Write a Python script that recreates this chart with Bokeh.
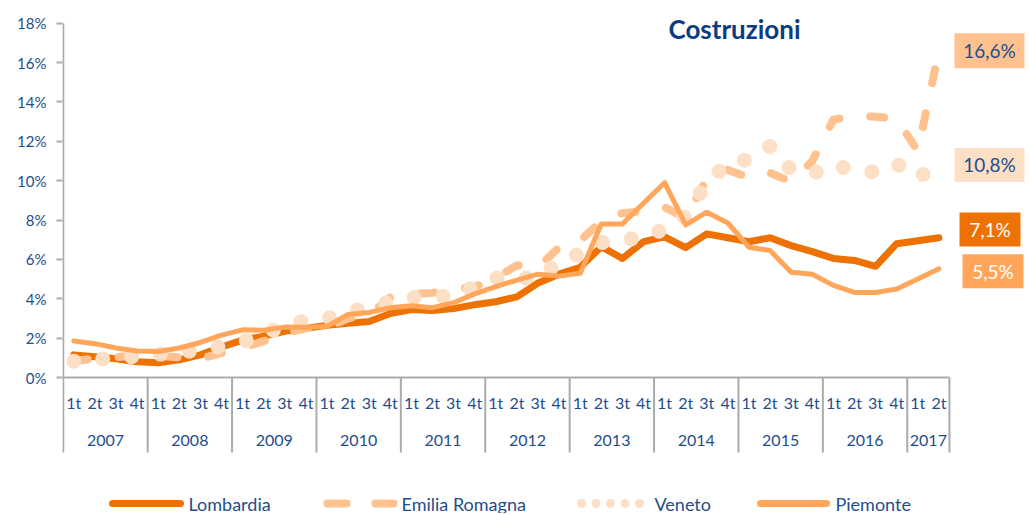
from bokeh.plotting import figure
from bokeh.models import Range1d, FixedTicker, PrintfTickFormatter, ColumnDataSource
from bokeh.core.properties import value
from bokeh.embed import file_html
from bokeh.resources import INLINE

# ---------------- data ----------------
years = ["2007", "2008", "2009", "2010", "2011", "2012", "2013", "2014", "2015", "2016", "2017"]
quarters_in_year = [4, 4, 4, 4, 4, 4, 4, 4, 4, 4, 2]
quarter_names = ["1t", "2t", "3t", "4t"]

lombardia = [1.15, 1.05, 0.95, 0.80, 0.75, 0.90, 1.15, 1.55, 1.90, 2.10,
             2.35, 2.50, 2.65, 2.75, 2.85, 3.25, 3.45, 3.40, 3.50, 3.70,
             3.85, 4.10, 4.80, 5.25, 5.60, 6.65, 6.05, 6.90, 7.15, 6.60,
             7.30, 7.10, 6.90, 7.10, 6.70, 6.40, 6.05, 5.95, 5.65, 6.80,
             6.95, 7.10]
emilia_romagna = [0.85, 0.95, 1.03, 1.12, 1.10, 1.02, 0.95, 1.25, 1.50, 1.85,
                  2.25, 2.50, 2.56, 3.00, 3.20, 4.07, 4.25, 4.30, 4.50, 4.60,
                  5.05, 5.70, 5.60, 6.62, 6.95, 7.95, 8.35, 8.45, 8.65, 8.10,
                  10.10, 10.55, 10.15, 10.40, 9.95, 11.00, 13.10, 13.30, 13.25, 13.15,
                  11.50, 16.60]
veneto = [0.83, 0.90, 1.00, 1.08, 1.18, 1.27, 1.40, 1.58, 1.82, 2.20,
          2.65, 2.90, 3.00, 3.30, 3.60, 3.83, 4.05, 4.15, 4.10, 4.62,
          5.05, 5.10, 5.00, 5.90, 6.30, 6.85, 7.00, 7.10, 7.56, 8.20,
          9.90, 10.90, 11.08, 11.75, 10.55, 10.35, 10.82, 10.50, 10.45, 10.86,
          10.15, 10.80]
piemonte = [1.85, 1.72, 1.50, 1.35, 1.32, 1.50, 1.78, 2.15, 2.42, 2.40,
            2.56, 2.55, 2.60, 3.20, 3.30, 3.55, 3.65, 3.55, 3.80, 4.25,
            4.62, 4.95, 5.25, 5.15, 5.30, 7.80, 7.80, 8.85, 9.90, 7.75,
            8.40, 7.85, 6.62, 6.45, 5.35, 5.25, 4.68, 4.32, 4.32, 4.50,
            5.00, 5.52]
series_names = ["Lombardia", "Emilia Romagna", "Veneto", "Piemonte"]
end_labels = ["7,1%", "16,6%", "10,8%", "5,5%"]
y_ticks = [0, 2, 4, 6, 8, 10, 12, 14, 16, 18]
title_text = "Costruzioni"

# ---------------- layout helpers (page pixel -> data) ----------------
W, H = 1027, 513
LEFT = 62
PX_CAT = 21.1
PX_PCT = 19.68
FIRST_X = 73.3      # page x of first category
ZERO_Y = 377        # page y of 0%
FRAME_L = LEFT

x_start = -(FIRST_X - FRAME_L) / PX_CAT
x_end = x_start + (W - LEFT) / PX_CAT
y_end = ZERO_Y / PX_PCT
y_start = (ZERO_Y - H) / PX_PCT


def X(px):
    return x_start + (px - FRAME_L) / PX_CAT


def Y(py):
    return (ZERO_Y - py) / PX_PCT


BLUE = "#1F4E8C"
GRAY = "#ABABAB"
C_LOM = "#EE7203"
C_EMI = "#FFC28E"
C_VEN = "#FDDFC6"
C_PIE = "#FFA65A"
FONT = value("Lato")

cats = [(y, q) for y, k in zip(years, quarters_in_year) for q in quarter_names[:k]]
n = len(cats)
xs = list(range(n))

p = figure(width=W, height=H, output_backend="svg", toolbar_location=None,
           x_range=Range1d(x_start, x_end), y_range=Range1d(y_start, y_end),
           x_axis_location=None, min_border_left=LEFT, min_border_right=0,
           min_border_top=0, min_border_bottom=0)
p.outline_line_color = None
p.grid.grid_line_color = None
p.background_fill_color = "white"
p.border_fill_color = "white"

yax = p.yaxis[0]
yax.ticker = FixedTicker(ticks=y_ticks)
yax.formatter = PrintfTickFormatter(format="%d%%")
yax.axis_line_color = None
yax.major_tick_line_color = GRAY
yax.major_tick_line_width = 2
yax.major_tick_out = 6
yax.major_tick_in = 0
yax.minor_tick_line_color = None
yax.major_label_text_font = "Lato"
yax.major_label_text_font_size = "15px"
yax.major_label_text_color = BLUE
yax.major_label_standoff = 10

# ---------------- category table ----------------
table_bottom = Y(452)
bounds = [-0.5]
for k in quarters_in_year:
    bounds.append(bounds[-1] + k)
p.segment(x0=[bounds[0], bounds[0]], y0=[y_ticks[-1], 0], x1=[bounds[0], bounds[-1]],
          y1=[table_bottom, 0], line_color=GRAY, line_width=2)
p.segment(x0=bounds[1:], y0=[0] * (len(bounds) - 1), x1=bounds[1:],
          y1=[table_bottom] * (len(bounds) - 1), line_color=GRAY, line_width=2)

p.text(x=xs, y=[Y(402)] * n, text=[q for _, q in cats], text_font=FONT,
       text_font_size="16px", text_color=BLUE, text_align="center", text_baseline="middle")
year_centers = [(bounds[i] + bounds[i + 1]) / 2 for i in range(len(years))]
p.text(x=year_centers, y=[Y(440)] * len(years), text=years, text_font=FONT,
       text_font_size="16px", text_color=BLUE, text_align="center", text_baseline="middle")

# ---------------- series ----------------
p.line(xs, lombardia, line_color=C_LOM, line_width=7, line_join="round", line_cap="round")
p.line(xs, emilia_romagna, line_color=C_EMI, line_width=8, line_join="round",
       line_cap="round", line_dash="14 31")
p.line(xs, veneto, line_color=C_VEN, line_width=15, line_join="round",
       line_cap="round", line_dash="0 29")
p.line(xs, piemonte, line_color=C_PIE, line_width=5, line_join="round", line_cap="round")

# ---------------- title ----------------
p.text(x=[X(734)], y=[Y(28)], text=[title_text], text_font=FONT, text_font_style="bold",
       text_font_size="26px", text_color="#0B3C82", text_align="center", text_baseline="middle")

# ---------------- end labels ----------------
last_vals = [lombardia[-1], emilia_romagna[-1], veneto[-1], piemonte[-1]]
lab_x = [X(989.5), X(989), X(989), X(992.5)]
lab_y = [last_vals[0] + 0.42, last_vals[1], last_vals[2], last_vals[3] - 0.12]
lab_w = [61, 70, 70, 61]
lab_h = [34, 35, 34, 34]
lab_bg = [C_LOM, C_EMI, C_VEN, C_PIE]
lab_fg = ["white", BLUE, BLUE, "white"]
src = ColumnDataSource(dict(x=lab_x, y=lab_y, w=lab_w, h=lab_h, bg=lab_bg, fg=lab_fg, t=end_labels))
p.rect(x="x", y="y", width="w", height="h", width_units="screen", height_units="screen",
       fill_color="bg", line_color=None, source=src)
p.text(x="x", y="y", text="t", text_color="fg", text_font=FONT, text_font_size="19px",
       text_align="center", text_baseline="middle", source=src)

# ---------------- legend ----------------
ly = Y(503)
p.line([X(112), X(180)], [ly, ly], line_color=C_LOM, line_width=7, line_cap="round")
p.segment(x0=[X(327), X(375)], y0=[ly, ly], x1=[X(346), X(393)], y1=[ly, ly],
          line_color=C_EMI, line_width=8, line_cap="round")
p.scatter(x=[X(581), X(595.5), X(610), X(624.5), X(639)], y=[ly] * 5, size=9,
          fill_color=C_VEN, line_color=None)
p.line([X(760), X(826)], [ly, ly], line_color=C_PIE, line_width=7, line_cap="round")
p.text(x=[X(188), X(401), X(654), X(835)], y=[ly] * 4, text=series_names, text_font=FONT,
       text_font_size="18px", text_color=BLUE, text_align="left", text_baseline="middle")

open("out.html", "w").write(file_html(p, INLINE))
